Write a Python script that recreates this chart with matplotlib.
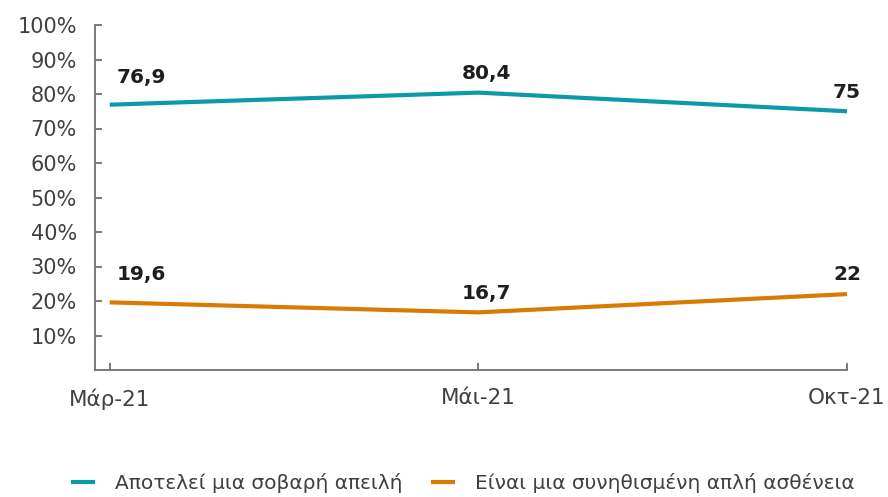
import matplotlib.pyplot as plt
from matplotlib.ticker import FixedLocator

months = ["Μάρ-21", "Μάι-21", "Οκτ-21"]
threat = [76.9, 80.4, 75]
common = [19.6, 16.7, 22]
series_names = ["Αποτελεί μια σοβαρή απειλή", "Είναι μια συνηθισμένη απλή ασθένεια"]
yticks = [10, 20, 30, 40, 50, 60, 70, 80, 90, 100]

teal = "#0b9ba8"
orange = "#d97b00"
axis_col = "#707070"
text_col = "#404040"

plt.rcParams['font.family'] = ['DejaVu Sans']

fig = plt.figure(figsize=(8.88, 4.97), dpi=100)
ax = fig.add_axes([95/888, 1 - 370/497, (847-95)/888, (370-25)/497])

x = list(range(len(months)))
ax.plot(x, threat, color=teal, lw=3, solid_capstyle='butt', label=series_names[0])
ax.plot(x, common, color=orange, lw=3, solid_capstyle='butt', label=series_names[1])

# label offsets in points (dx, dy)
offs = [(23, 13), (6, 7), (0, 7)]
for vals in (threat, common):
    for i, v in enumerate(vals):
        s = ("%g" % v).replace(".", ",")
        ax.annotate(s, (x[i], v), xytext=offs[i], textcoords="offset points",
                    ha="center", va="bottom", fontsize=14.5, fontweight="bold",
                    color="#1e1e1e")

ax.set_xlim(-0.04, 2)
ax.set_ylim(0, 100)
ax.yaxis.set_major_locator(FixedLocator(yticks))
ax.set_yticklabels(["%d%%" % t for t in yticks])
ax.set_xticks(x)
ax.set_xticklabels(months)

for side in ("top", "right"):
    ax.spines[side].set_visible(False)
for side in ("left", "bottom"):
    ax.spines[side].set_color(axis_col)
    ax.spines[side].set_linewidth(1.3)

ax.tick_params(axis="y", direction="in", length=5, width=1.3, color=axis_col,
               labelsize=15, labelcolor=text_col, pad=13)
ax.tick_params(axis="x", direction="in", length=5, width=1.3, color=axis_col,
               labelsize=15.5, labelcolor=text_col, pad=13)

leg = fig.legend(loc="center", bbox_to_anchor=(463/888, 1 - 483/497), ncol=2,
                 frameon=False, fontsize=14.5, handlelength=1.2, handletextpad=1.0,
                 columnspacing=1.4)
for t in leg.get_texts():
    t.set_color(text_col)

fig.savefig("out.png", dpi=100)
